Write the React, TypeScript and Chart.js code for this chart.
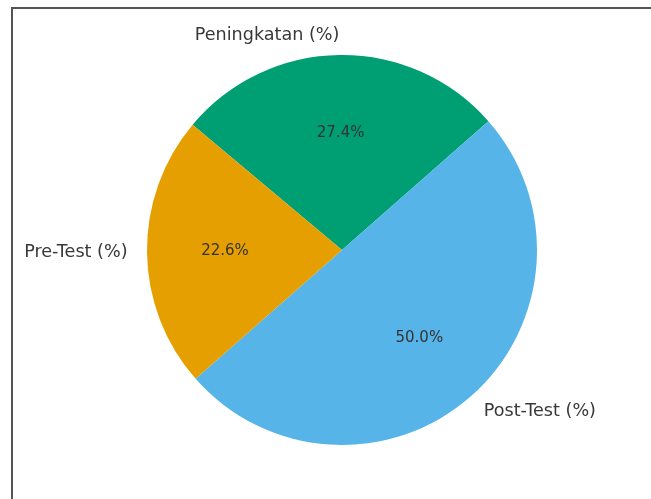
import React, { useEffect, useRef } from "react";
import { Chart, registerables } from "chart.js";

Chart.register(...registerables);

// Original (matplotlib, counter-clockwise) order
const categories = ["Pre-Test (%)", "Post-Test (%)", "Peningkatan (%)"];
const values = [22.6, 50.0, 27.4];
const colors = ["#E69F00", "#56B4E9", "#009E73"];

// Chart.js draws clockwise, so reverse the order
const cjLabels = [...categories].reverse();
const cjValues = [...values].reverse();
const cjColors = [...colors].reverse();

const labelPlugin = {
  id: "pieLabels",
  afterDatasetsDraw(chart: any) {
    const ctx = chart.ctx;
    const meta = chart.getDatasetMeta(0);
    const data = chart.data.datasets[0].data as number[];
    const total = data.reduce((a, b) => a + b, 0);
    ctx.save();
    meta.data.forEach((arc: any, i: number) => {
      const { x, y, startAngle, endAngle, outerRadius } = arc.getProps(
        ["x", "y", "startAngle", "endAngle", "outerRadius"],
        true
      );
      const mid = (startAngle + endAngle) / 2;
      const c = Math.cos(mid);
      const s = Math.sin(mid);
      // category label at 1.1 r
      ctx.font = "17.6px 'DejaVu Sans'";
      ctx.fillStyle = "#383838";
      ctx.textBaseline = "middle";
      ctx.textAlign = c < 0 ? "right" : "left";
      ctx.fillText(
        chart.data.labels[i],
        x + c * outerRadius * 1.1,
        y + s * outerRadius * 1.1
      );
      // percentage at 0.6 r
      ctx.font = "15px 'DejaVu Sans'";
      ctx.fillStyle = "#333333";
      ctx.textAlign = "center";
      const pct = ((data[i] / total) * 100).toFixed(1) + "%";
      ctx.fillText(pct, x + c * outerRadius * 0.6, y + s * outerRadius * 0.6);
    });
    ctx.restore();
  },
};

export default function App() {
  const ref = useRef<HTMLCanvasElement>(null);
  useEffect(() => {
    if (!ref.current) return;
    const chart = new Chart(ref.current, {
      type: "pie",
      data: {
        labels: cjLabels,
        datasets: [
          {
            data: cjValues,
            backgroundColor: cjColors,
            borderWidth: 0,
          },
        ],
      },
      options: {
        responsive: false,
        animation: false,
        rotation: -50,
        layout: { padding: { left: 147, right: 114, top: 55, bottom: 54 } },
        plugins: {
          legend: { display: false },
          tooltip: { enabled: false },
        },
      },
      plugins: [labelPlugin],
    });
    return () => chart.destroy();
  }, []);

  return (
    <div
      style={{
        position: "fixed",
        left: 0,
        top: 0,
        width: 651,
        height: 499,
        background: "#ffffff",
        overflow: "hidden",
      }}
    >
      <div
        style={{
          position: "absolute",
          left: 11,
          top: 7,
          width: 660,
          height: 520,
          borderLeft: "2px solid #555",
          borderTop: "2px solid #555",
        }}
      />
      <canvas
        ref={ref}
        width={651}
        height={499}
        style={{ position: "absolute", left: 0, top: 0 }}
      />
    </div>
  );
}
